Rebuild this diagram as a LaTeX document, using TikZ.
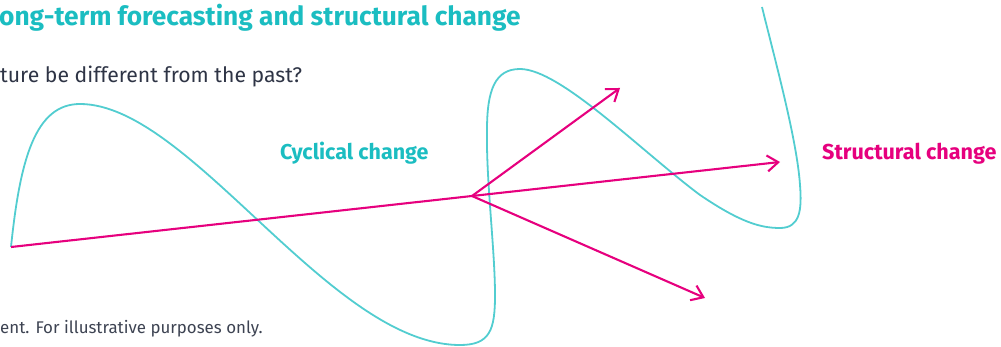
\documentclass[tikz,border=0pt]{standalone}
\usepackage{fontspec}
\setmainfont{Fira Sans}
\usetikzlibrary{arrows.meta}
\definecolor{cycteal}{HTML}{1BBDC1}
\definecolor{waveteal}{HTML}{52CDD0}
\definecolor{structpink}{HTML}{E6007E}
\definecolor{ink}{HTML}{2E3445}
\definecolor{noteink}{HTML}{3D4352}

\begin{document}
\begin{tikzpicture}[x=1pt,y=-1pt,
    txt/.style={inner sep=0pt, anchor=base west},
    trend/.style={draw=structpink, line width=2.1pt},
    branch/.style={trend, -{Straight Barb[length=11pt,width=16pt]}},
    wavy/.style={draw=waveteal, line width=1.8pt}]
   \useasboundingbox (0,0) rectangle (1001,347);
   \node[txt, text=cycteal, font=\bfseries\fontsize{26.3}{30}\selectfont] (title) at (-1,26)
        {ong-term forecasting and structural change};
   \node[txt, text=ink, font=\fontsize{21.2}{24}\selectfont] (question) at (0,83)
        {ture be different from the past?};
   \node[txt, text=noteink, font=\fontsize{16.9}{19}\selectfont] (note) at (0,333)
        {ent. For illustrative purposes only.};
   \node[txt, text=cycteal, font=\bfseries\fontsize{21.5}{24}\selectfont] (cyclical) at (280,160) {Cyclical change};
   \node[txt, text=structpink, font=\bfseries\fontsize{21.6}{24}\selectfont] (structural) at (822,160) {Structural change};
   % the cycle
   \draw[wavy] (11,247) .. controls (20,160) and (35,104) .. (80,104)
        .. controls (190,104) and (330,345) .. (460,345)
        .. controls (490,345) and (495,330) .. (495,295)
        .. controls (495,250) and (486,180) .. (487,130)
        .. controls (487,90) and (495,69) .. (520,69)
        .. controls (560,69) and (640,150) .. (700,195)
        .. controls (740,222) and (760,228) .. (780,228)
        .. controls (800,228) and (802,210) .. (800,185)
        .. controls (797,140) and (775,60) .. (762,7);
   % the trend and its branches
   \coordinate (start) at (11,247);
   \coordinate (hub) at (472,196);
   \coordinate (up) at (620,88);
   \coordinate (ahead) at (780,162);
   \coordinate (down) at (705,298);
   \draw[trend] (start) -- (hub);
   \draw[branch] (hub) -- (up);
   \draw[branch] (hub) -- (ahead);
   \draw[branch] (hub) -- (down);
\end{tikzpicture}
\end{document}
